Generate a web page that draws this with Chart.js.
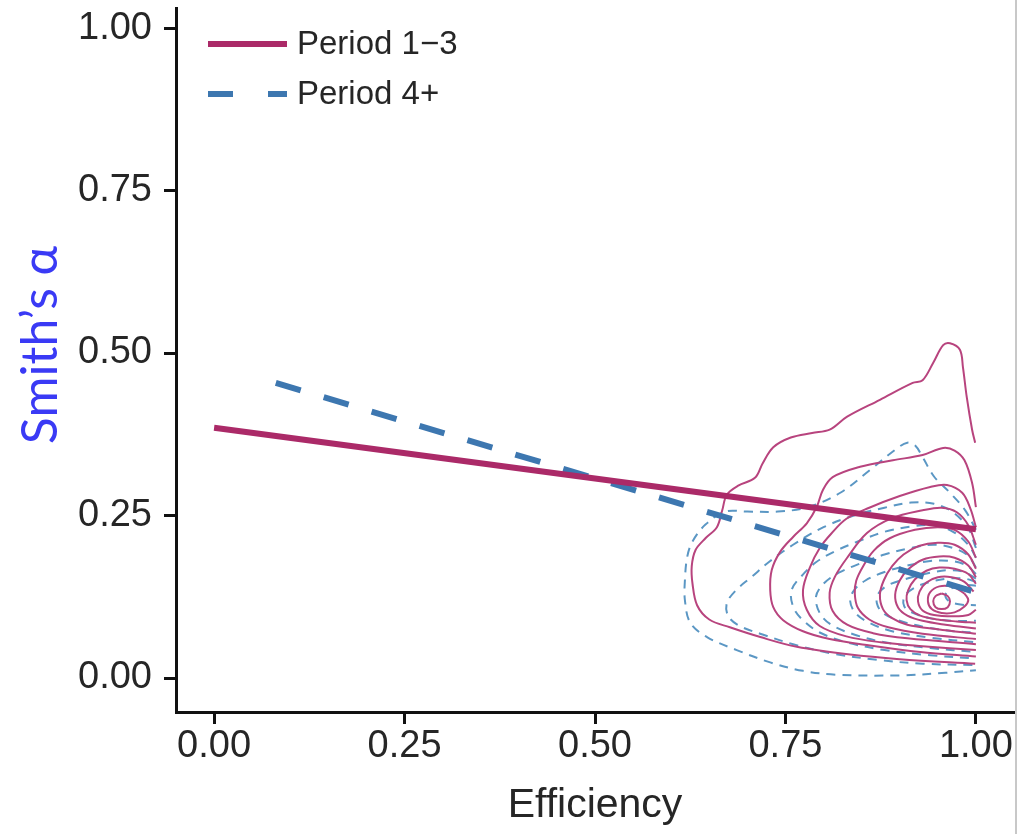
<!DOCTYPE html>
<html>
<head>
<meta charset="utf-8">
<script src="https://cdn.jsdelivr.net/npm/chart.js@4/dist/chart.umd.min.js"></script>
<style>
  html, body { margin: 0; padding: 0; background: #fff; }
  #wrap { position: relative; width: 1020px; height: 834px; }
  #edge { position: absolute; left: 1015px; top: 0; width: 2px; height: 834px; background: #c8c8c8; }
</style>
</head>
<body>
<div id="wrap">
  <canvas id="myChart" width="1020" height="834"></canvas>
  <div id="edge"></div>
</div>
<script>
  // axis ticks
  const xTickValues = [0, 0.25, 0.5, 0.75, 1];
  const xTickLabels = ['0.00', '0.25', '0.50', '0.75', '1.00'];
  const yTickValues = [0, 0.25, 0.5, 0.75, 1];
  const yTickLabels = ['0.00', '0.25', '0.50', '0.75', '1.00'];

  // fitted lines (efficiency vs alpha)
  const seriesNames = ['Period 1\u22123', 'Period 4+'];
  const earlyFitX = [0, 1];
  const earlyFitY = [0.385, 0.229];
  const lateFitX = [0.081, 1];
  const lateFitY = [0.454, 0.132];

  // density contours, periods 1-3 (outer -> inner)
  const earlyContours = [
    [[0.999,0.362],[0.995,0.382],[0.988,0.432],[0.983,0.478],[0.979,0.505],[0.966,0.515],[0.957,0.512],[0.944,0.485],[0.93,0.458],[0.917,0.454],[0.874,0.428],[0.831,0.402],[0.808,0.382],[0.785,0.377],[0.757,0.37],[0.734,0.355],[0.72,0.33],[0.71,0.308],[0.688,0.296],[0.673,0.282],[0.667,0.258],[0.66,0.232],[0.645,0.215],[0.632,0.197],[0.627,0.172],[0.628,0.145],[0.634,0.112],[0.65,0.09],[0.677,0.078],[0.717,0.063],[0.765,0.048],[0.835,0.036],[0.9,0.029],[0.999,0.022]],
    [[1.0,0.263],[0.995,0.3],[0.985,0.335],[0.972,0.35],[0.957,0.354],[0.93,0.343],[0.891,0.335],[0.848,0.325],[0.812,0.309],[0.799,0.289],[0.791,0.263],[0.778,0.238],[0.76,0.217],[0.743,0.194],[0.732,0.166],[0.73,0.135],[0.734,0.109],[0.747,0.089],[0.773,0.072],[0.808,0.06],[0.861,0.05],[0.927,0.04],[1.0,0.033]],
    [[1.0,0.232],[0.993,0.26],[0.982,0.285],[0.962,0.297],[0.94,0.294],[0.9,0.28],[0.86,0.262],[0.83,0.245],[0.81,0.222],[0.795,0.2],[0.782,0.17],[0.773,0.135],[0.778,0.105],[0.795,0.08],[0.83,0.064],[0.875,0.055],[0.93,0.049],[1.0,0.043]],
    [[1.0,0.205],[0.99,0.235],[0.975,0.255],[0.955,0.262],[0.93,0.258],[0.89,0.246],[0.857,0.223],[0.831,0.185],[0.815,0.156],[0.808,0.131],[0.812,0.103],[0.831,0.082],[0.865,0.069],[0.91,0.061],[1.0,0.052]],
    [[1.0,0.185],[0.99,0.21],[0.972,0.228],[0.95,0.232],[0.92,0.228],[0.887,0.215],[0.866,0.196],[0.852,0.172],[0.843,0.15],[0.841,0.13],[0.845,0.108],[0.86,0.09],[0.885,0.078],[0.93,0.068],[1.0,0.06]],
    [[1.0,0.168],[0.99,0.19],[0.972,0.205],[0.95,0.208],[0.925,0.203],[0.905,0.19],[0.89,0.172],[0.879,0.15],[0.874,0.128],[0.878,0.106],[0.89,0.092],[0.91,0.082],[0.95,0.075],[1.0,0.068]],
    [[1.0,0.155],[0.99,0.173],[0.972,0.185],[0.952,0.187],[0.93,0.182],[0.912,0.168],[0.9,0.15],[0.894,0.128],[0.898,0.108],[0.91,0.096],[0.93,0.088],[0.96,0.082],[1.0,0.076]],
    [[1.0,0.145],[0.99,0.16],[0.972,0.168],[0.952,0.17],[0.935,0.165],[0.92,0.152],[0.911,0.135],[0.909,0.12],[0.914,0.106],[0.927,0.096],[0.95,0.09],[0.975,0.087],[1.0,0.085]],
    [[0.997,0.133],[0.985,0.148],[0.968,0.155],[0.95,0.155],[0.935,0.147],[0.926,0.133],[0.924,0.118],[0.93,0.104],[0.945,0.097],[0.97,0.095],[0.99,0.097],[1.0,0.105]],
    [[0.985,0.13],[0.97,0.14],[0.952,0.141],[0.94,0.132],[0.937,0.118],[0.942,0.106],[0.955,0.1],[0.972,0.101],[0.985,0.11],[0.99,0.12],[0.985,0.13]],
    [[0.955,0.13],[0.963,0.126],[0.966,0.118],[0.963,0.109],[0.955,0.106],[0.947,0.109],[0.944,0.118],[0.947,0.126],[0.955,0.13]]
  ];

  // density contours, periods 4+ (outer -> inner)
  const lateContours = [
    [[1.0,0.228],[0.986,0.258],[0.966,0.285],[0.945,0.31],[0.93,0.34],[0.92,0.358],[0.91,0.362],[0.895,0.352],[0.861,0.32],[0.822,0.285],[0.78,0.263],[0.74,0.256],[0.7,0.256],[0.671,0.256],[0.645,0.236],[0.628,0.21],[0.621,0.186],[0.618,0.15],[0.618,0.12],[0.625,0.085],[0.647,0.063],[0.686,0.043],[0.73,0.024],[0.773,0.011],[0.818,0.005],[0.9,0.004],[0.96,0.008],[1.0,0.012]],
    [[1.0,0.2],[0.99,0.23],[0.97,0.255],[0.945,0.268],[0.915,0.27],[0.88,0.262],[0.84,0.25],[0.8,0.232],[0.76,0.205],[0.73,0.18],[0.705,0.155],[0.685,0.135],[0.673,0.115],[0.675,0.095],[0.69,0.08],[0.72,0.067],[0.76,0.052],[0.81,0.038],[0.87,0.028],[0.93,0.022],[1.0,0.02]],
    [[1.0,0.185],[0.99,0.205],[0.97,0.225],[0.945,0.235],[0.915,0.233],[0.88,0.225],[0.845,0.21],[0.815,0.195],[0.79,0.178],[0.772,0.158],[0.758,0.135],[0.76,0.11],[0.772,0.09],[0.795,0.07],[0.83,0.055],[0.88,0.043],[0.94,0.035],[1.0,0.03]],
    [[1.0,0.17],[0.99,0.188],[0.97,0.2],[0.945,0.205],[0.915,0.2],[0.88,0.19],[0.85,0.177],[0.82,0.162],[0.8,0.145],[0.79,0.125],[0.795,0.1],[0.81,0.082],[0.84,0.067],[0.88,0.055],[0.94,0.046],[1.0,0.04]],
    [[1.0,0.16],[0.988,0.173],[0.968,0.18],[0.94,0.18],[0.91,0.173],[0.88,0.163],[0.855,0.15],[0.84,0.135],[0.835,0.118],[0.842,0.1],[0.86,0.085],[0.89,0.072],[0.94,0.062],[1.0,0.055]],
    [[1.0,0.153],[0.985,0.163],[0.965,0.166],[0.94,0.162],[0.91,0.153],[0.885,0.143],[0.872,0.13],[0.87,0.115],[0.878,0.1],[0.9,0.088],[0.935,0.078],[0.97,0.072],[1.0,0.07]],
    [[1.0,0.148],[0.985,0.153],[0.965,0.153],[0.94,0.148],[0.918,0.138],[0.906,0.125],[0.906,0.11],[0.918,0.1],[0.94,0.092],[0.97,0.088],[1.0,0.088]],
    [[1.0,0.142],[0.985,0.143],[0.968,0.138],[0.96,0.128],[0.965,0.118],[0.98,0.113],[1.0,0.112]]
  ];

  const earlyColor = '#ab2a68';
  const lateColor = '#3d77b0';
  const earlyContourColor = '#b8447e';
  const lateContourColor = '#5b97c4';
  const textColor = '#262626';
  const sansFont = '"Liberation Sans", Arial, sans-serif';

  function toPoints(xs, ys) {
    return xs.map((x, i) => ({ x: x, y: ys[i] }));
  }

  const datasets = [];

  datasets.push({
    label: seriesNames[0],
    data: toPoints(earlyFitX, earlyFitY),
    showLine: true,
    borderColor: earlyColor,
    borderWidth: 6,
    pointRadius: 0,
    order: 0
  });
  datasets.push({
    label: seriesNames[1],
    data: toPoints(lateFitX, lateFitY),
    showLine: true,
    borderColor: lateColor,
    borderWidth: 6,
    borderDash: [26, 24],
    pointRadius: 0,
    order: 1
  });

  lateContours.forEach(c => {
    datasets.push({
      label: 'late',
      data: c.map(p => ({ x: p[0], y: p[1] })),
      showLine: true,
      borderColor: lateContourColor,
      borderWidth: 2,
      borderDash: [9, 7],
      tension: 0.35,
      pointRadius: 0,
      order: 3
    });
  });
  earlyContours.forEach(c => {
    datasets.push({
      label: 'early',
      data: c.map(p => ({ x: p[0], y: p[1] })),
      showLine: true,
      borderColor: earlyContourColor,
      borderWidth: 2,
      tension: 0.35,
      pointRadius: 0,
      order: 2
    });
  });

  // legend inside the plot + rotated y title
  const annotations = {
    id: 'annotations',
    afterDraw(chart) {
      const ctx = chart.ctx;
      ctx.save();
      ctx.lineCap = 'butt';
      ctx.lineWidth = 6;
      ctx.strokeStyle = earlyColor;
      ctx.beginPath();
      ctx.moveTo(208, 44);
      ctx.lineTo(287, 44);
      ctx.stroke();
      ctx.strokeStyle = lateColor;
      ctx.setLineDash([25, 35]);
      ctx.beginPath();
      ctx.moveTo(208, 94);
      ctx.lineTo(287, 94);
      ctx.stroke();
      ctx.setLineDash([]);

      ctx.fillStyle = textColor;
      ctx.font = '33px ' + sansFont;
      ctx.textBaseline = 'middle';
      ctx.textAlign = 'left';
      ctx.fillText(seriesNames[0], 297, 45);
      ctx.fillText(seriesNames[1], 297, 95);

      ctx.translate(57, 345);
      ctx.rotate(-Math.PI / 2);
      ctx.fillStyle = '#3a3af5';
      ctx.font = '50px Lato, "Open Sans", sans-serif';
      ctx.textAlign = 'center';
      ctx.textBaseline = 'alphabetic';
      ctx.fillText('Smith\u2019s \u03b1', 0, 0);
      ctx.restore();
    }
  };

  const ctx = document.getElementById('myChart').getContext('2d');
  const myChart = new Chart(ctx, {
    type: 'scatter',
    data: { datasets },
    plugins: [annotations],
    options: {
      responsive: false,
      animation: false,
      layout: { padding: { left: 0, right: 6, top: 8, bottom: 0 } },
      plugins: {
        legend: { display: false },
        tooltip: { enabled: false }
      },
      scales: {
        x: {
          type: 'linear',
          min: -0.05,
          max: 1.05,
          afterBuildTicks(scale) {
            scale.ticks = xTickValues.map(v => ({ value: v }));
          },
          afterFit(scale) {
            scale.height = 122;
            scale.paddingLeft = 0;
            scale.paddingRight = 0;
          },
          border: { display: true, color: '#111', width: 3 },
          grid: { drawOnChartArea: false, drawTicks: true, tickLength: 12, tickWidth: 3, tickColor: '#111' },
          ticks: {
            padding: 0,
            color: textColor,
            font: { family: sansFont, size: 38, lineHeight: 1.2 },
            callback: (v) => xTickLabels[xTickValues.indexOf(v)]
          },
          title: {
            display: true,
            text: 'Efficiency',
            color: textColor,
            font: { family: sansFont, size: 41, lineHeight: 1.2 },
            padding: { top: 0, bottom: 4 }
          }
        },
        y: {
          type: 'linear',
          min: -0.0523,
          max: 1.0308,
          afterBuildTicks(scale) {
            scale.ticks = yTickValues.map(v => ({ value: v }));
          },
          afterFit(scale) {
            scale.width = 176;
            scale.paddingTop = 0;
            scale.paddingBottom = 0;
          },
          border: { display: true, color: '#111', width: 3 },
          grid: { drawOnChartArea: false, drawTicks: true, tickLength: 12, tickWidth: 3, tickColor: '#111' },
          ticks: {
            padding: 12,
            color: textColor,
            font: { family: sansFont, size: 38, lineHeight: 1.2 },
            callback: (v) => yTickLabels[yTickValues.indexOf(v)]
          }
        }
      }
    }
  });
</script>
</body>
</html>
